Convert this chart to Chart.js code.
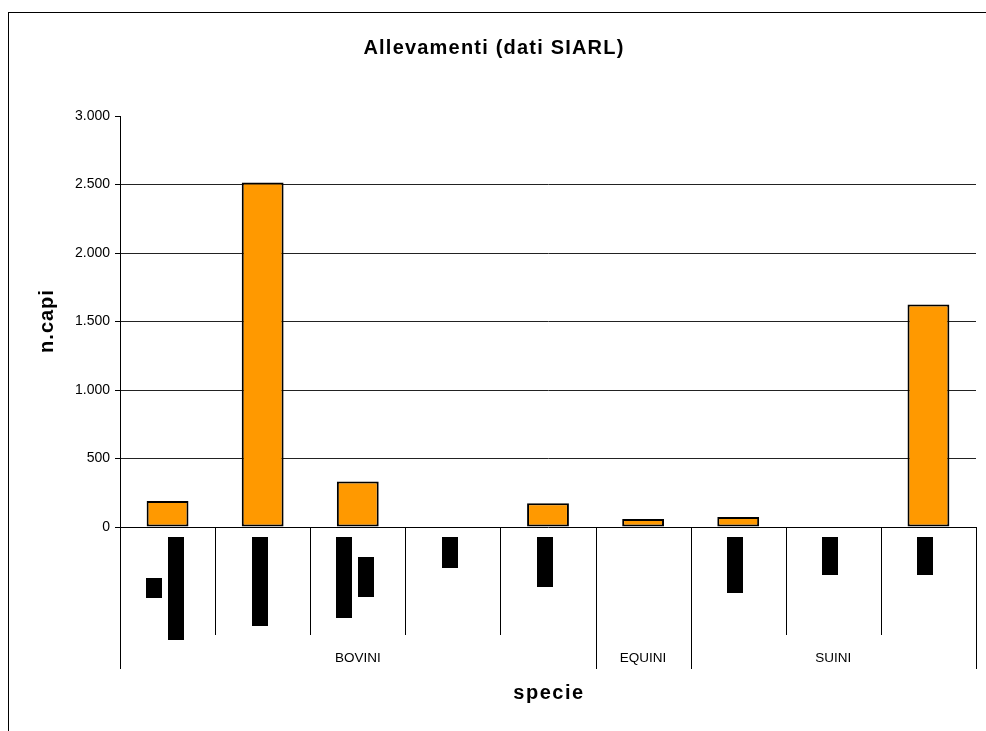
<!DOCTYPE html>
<html><head><meta charset="utf-8">
<script src="https://cdn.jsdelivr.net/npm/chart.js@4/dist/chart.umd.min.js"></script>
<style>html,body{margin:0;padding:0;background:#fff}canvas{display:block}</style>
</head><body>
<canvas id="c" width="986" height="731"></canvas>
<script>
// ---- data ----
const subLabels = [
  ['Per', 'linea vacca-vitello'],
  ['Vacche da latte'],
  ['Vacche nutrici', 'e vitelli'],
  ['Vitelli'],
  ['Ingrasso'],
  [],
  ['Lattonzoli'],
  ['Scrofe'],
  ['Grassi']
];
const groupNames = ['BOVINI', 'EQUINI', 'SUINI'];
const groupSpans = [5, 1, 3];
const nCapi = [190, 2515, 332, null, 174, 58, 73, null, 1625];
const yTicks = [0, 500, 1000, 1500, 2000, 2500, 3000];
const titleText = 'Allevamenti (dati SIARL)';
const yTitle = 'n.capi';
const xTitle = 'specie';

const FONT = '"Liberation Sans", Arial, sans-serif';
const fmt = v => v.toLocaleString('de-DE');

const decor = {
  id: 'decor',
  afterDraw(chart) {
    const ctx = chart.ctx;
    const x = chart.scales.x, y = chart.scales.y;
    const area = chart.chartArea;
    const n = subLabels.length;
    const step = (area.right - area.left) / n;
    const axisY = y.getPixelForValue(0);
    ctx.save();
    // outer frame
    ctx.strokeStyle = '#000'; ctx.lineWidth = 1;
    ctx.strokeRect(8.5, 12.5, 1200, 1200);
    // titles
    ctx.fillStyle = '#000';
    ctx.textAlign = 'center'; ctx.textBaseline = 'middle';
    ctx.font = 'bold 20px ' + FONT;
    if ('letterSpacing' in ctx) ctx.letterSpacing = '1.2px';
    ctx.fillText(titleText, 494, 48);
    if ('letterSpacing' in ctx) ctx.letterSpacing = '1.5px';
    ctx.fillText(xTitle, 549, 693);
    if ('letterSpacing' in ctx) ctx.letterSpacing = '1px';
    ctx.save();
    ctx.translate(47, 321); ctx.rotate(-Math.PI / 2);
    ctx.fillText(yTitle, 0, 0);
    ctx.restore();
    if ('letterSpacing' in ctx) ctx.letterSpacing = '0px';
    // boundary lines
    ctx.strokeStyle = '#000'; ctx.lineWidth = 1;
    const groupEdges = new Set([0]);
    let acc = 0;
    groupSpans.forEach(s => { acc += s; groupEdges.add(acc); });
    for (let i = 0; i <= n; i++) {
      const bx = Math.round(x.getPixelForValue(i) - step / 2) + 0.5;
      const isGroup = groupEdges.has(i);
      ctx.beginPath();
      ctx.moveTo(bx, axisY);
      ctx.lineTo(bx, isGroup ? 669 : 635);
      ctx.stroke();
    }
    // sub labels (rotated, rendered as solid blocks)
    ctx.font = '13px ' + FONT;
    ctx.textBaseline = 'middle'; ctx.textAlign = 'left';
    subLabels.forEach((lines, i) => {
      if (!lines.length) return;
      const cx = x.getPixelForValue(i) - 3;
      const widths = lines.map(t => ctx.measureText(t).width);
      const maxW = Math.max(...widths);
      lines.forEach((t, j) => {
        const lx = cx + (j - (lines.length - 1) / 2) * 22;
        const top = 537 + (maxW - widths[j]) / 2;
        ctx.fillStyle = '#000';
        ctx.fillRect(Math.round(lx - 8), Math.round(top), 16, Math.round(widths[j]));
        ctx.save();
        ctx.translate(lx, top + widths[j]); ctx.rotate(-Math.PI / 2);
        ctx.fillText(t, 0, 0);
        ctx.restore();
      });
    });
    // group labels
    ctx.font = '13.5px ' + FONT; ctx.textAlign = 'center'; ctx.fillStyle = '#000';
    let start = 0;
    groupNames.forEach((g, k) => {
      const l = x.getPixelForValue(start) - step / 2;
      const r = x.getPixelForValue(start + groupSpans[k] - 1) + step / 2;
      ctx.fillText(g, (l + r) / 2, 658);
      start += groupSpans[k];
    });
    ctx.restore();
  }
};

new Chart(document.getElementById('c'), {
  type: 'bar',
  data: {
    labels: subLabels.map(l => l.join(' ')),
    datasets: [{
      data: nCapi,
      backgroundColor: '#FF9900',
      borderColor: '#000',
      borderWidth: 2,
      borderSkipped: false,
      barPercentage: 0.44,
      categoryPercentage: 1
    }]
  },
  options: {
    responsive: false,
    animation: false,
    events: [],
    layout: { padding: { left: 0, right: 10, top: 116, bottom: 0 } },
    plugins: { legend: { display: false }, title: { display: false }, tooltip: { enabled: false } },
    scales: {
      x: {
        ticks: { display: false },
        grid: { display: false },
        border: { display: true, color: '#000', width: 1 },
        afterFit(s) { s.height = 204; }
      },
      y: {
        min: 0, max: 3000,
        afterBuildTicks(s) { s.ticks = yTicks.map(v => ({ value: v })); },
        ticks: { color: '#000', font: { family: FONT, size: 14 }, padding: 5, callback: v => fmt(v) },
        grid: {
          color: c => (c.tick && (c.tick.value === 3000 || c.tick.value === 0)) ? 'rgba(0,0,0,0)' : '#222',
          tickColor: '#000', tickLength: 5, lineWidth: 1
        },
        border: { display: true, color: '#000', width: 1 },
        afterFit(s) { s.width = 120; }
      }
    }
  },
  plugins: [decor]
});
</script>
</body></html>
